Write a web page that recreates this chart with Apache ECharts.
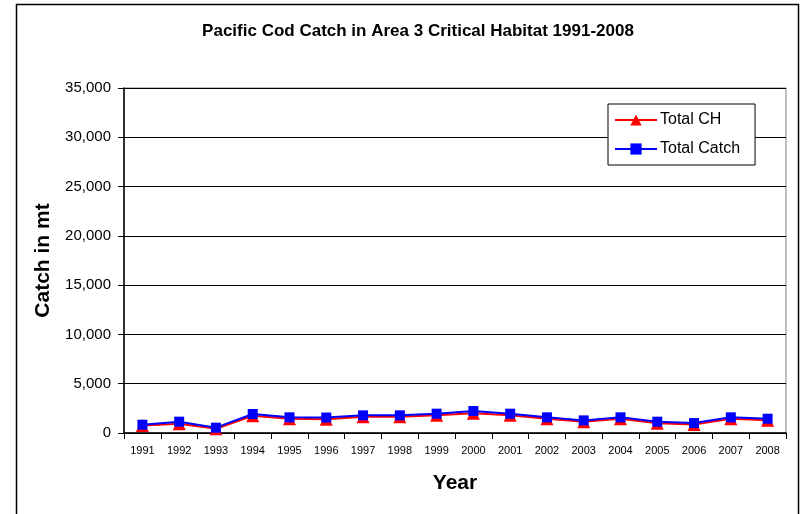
<!DOCTYPE html>
<html><head><meta charset="utf-8">
<script src="https://cdn.jsdelivr.net/npm/echarts@6/dist/echarts.min.js"></script>
<style>html,body{margin:0;padding:0;background:#fff}#c{width:803px;height:514px}</style>
</head><body><div id="c"></div>
<script>
var years = ['1991','1992','1993','1994','1995','1996','1997','1998','1999','2000','2001','2002','2003','2004','2005','2006','2007','2008'];
var totalCH = [760, 950, 420, 1750, 1450, 1400, 1650, 1650, 1800, 2000, 1800, 1450, 1150, 1450, 1000, 850, 1450, 1300];
var totalCatch = [840, 1150, 540, 1930, 1590, 1570, 1790, 1790, 1960, 2230, 1960, 1590, 1280, 1590, 1150, 1010, 1590, 1450];
var yTicks = {min: 0, max: 35000, interval: 5000};

var chart = echarts.init(document.getElementById('c'), null, {renderer: 'canvas'});
chart.setOption({
  animation: false,
  backgroundColor: '#fff',
  textStyle: {fontFamily: 'Liberation Sans, Arial, sans-serif'},
  graphic: [{
    type: 'rect', left: 14, top: 2, shape: {width: 782, height: 520},
    style: {fill: 'none', stroke: '#000', lineWidth: 1.5}, silent: true
  }],
  title: {
    text: 'Pacific Cod Catch in Area 3 Critical Habitat 1991-2008',
    left: 413, top: 18, textAlign: 'center',
    textStyle: {fontSize: 17, fontWeight: 'bold', color: '#000', fontFamily: 'Liberation Sans, Arial, sans-serif'}
  },
  legend: {
    orient: 'vertical', left: 608, top: 104,
    padding: [8, 15, 8, 6],
    itemGap: 13,
    itemWidth: 42, itemHeight: 14,
    borderColor: '#000', borderWidth: 1, backgroundColor: '#fff',
    textStyle: {fontSize: 16, color: '#000', padding: [0, 0, 0, -2]},
    data: ['Total CH', 'Total Catch']
  },
  grid: {left: 124, right: 17, top: 88, bottom: 81, show: true, borderColor: '#808080', borderWidth: 1, backgroundColor: 'transparent'},
  xAxis: {
    type: 'category', data: years, boundaryGap: true,
    name: 'Year', nameLocation: 'middle', nameGap: 40,
    nameTextStyle: {fontSize: 21, fontWeight: 'bold', color: '#000'},
    axisLine: {lineStyle: {color: '#000', width: 1.5}},
    axisTick: {show: true, length: 6, lineStyle: {color: '#000'}},
    axisLabel: {fontSize: 11, color: '#000', margin: 12, interval: 0}
  },
  yAxis: {
    type: 'value', min: yTicks.min, max: yTicks.max, interval: yTicks.interval,
    name: 'Catch in mt', nameLocation: 'middle', nameGap: 70,
    nameTextStyle: {fontSize: 21, fontWeight: 'bold', color: '#000'},
    axisLine: {show: true, lineStyle: {color: '#000', width: 1.5}},
    axisTick: {show: true, length: 6, lineStyle: {color: '#000'}},
    axisLabel: {fontSize: 15, color: '#000', margin: 13,
      formatter: function (v) { return v.toLocaleString('en-US'); }},
    splitLine: {lineStyle: {color: '#000', width: 1}}
  },
  series: [{
    name: 'Total CH', type: 'line', data: totalCH,
    symbol: 'triangle', symbolSize: 13,
    itemStyle: {color: '#ff0000'},
    lineStyle: {color: '#ff0000', width: 2}
  }, {
    name: 'Total Catch', type: 'line', data: totalCatch,
    symbol: 'rect', symbolSize: 10,
    itemStyle: {color: '#0000ff'},
    lineStyle: {color: '#0000ff', width: 2}
  }]
});
</script></body></html>
